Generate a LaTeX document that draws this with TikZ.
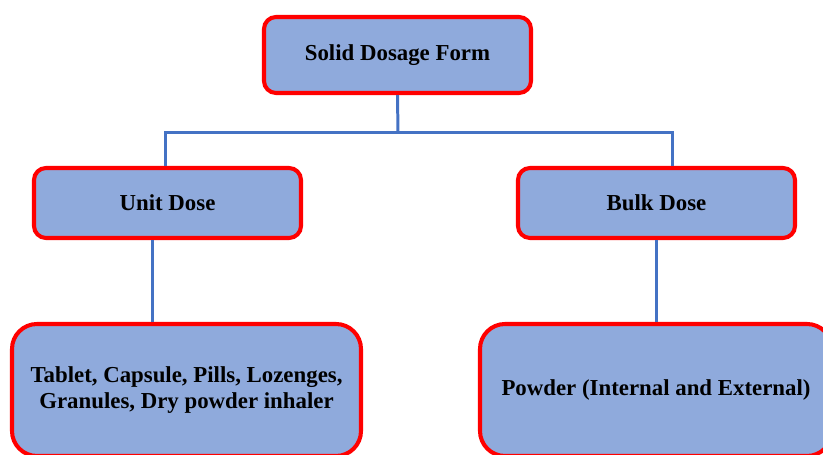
\documentclass[tikz,border=0pt]{standalone}
\usepackage{fontspec}
\setmainfont{Liberation Serif}
\usetikzlibrary{calc}
\definecolor{boxfill}{HTML}{8FAADC}
\definecolor{linkblue}{HTML}{4472C4}
\tikzset{
    dosebox/.style={draw=red, fill=boxfill, line width=2.3pt, rounded corners=0.24cm,
        align=center, font=\fontsize{13}{15}\selectfont\bfseries, inner sep=0pt},
    bigbox/.style={dosebox, rounded corners=0.5cm},
    link/.style={linkblue, line width=1.7pt}
}
\begin{document}
\begin{tikzpicture}[x=0.02cm, y=-0.02cm]
        \useasboundingbox (0,0) rectangle (823,455);

        \node[dosebox, minimum width=267*0.02cm, minimum height=76*0.02cm] (solid) at (397.5,55) {Solid Dosage Form};
        \node[dosebox, minimum width=267*0.02cm, minimum height=70*0.02cm] (unit) at (167.5,203) {Unit Dose};
        \node[dosebox, minimum width=277*0.02cm, minimum height=70*0.02cm] (bulk) at (656.5,203) {Bulk Dose};
        \node[bigbox, minimum width=349*0.02cm, minimum height=132*0.02cm] (tablets) at (186.5,390)
            {Tablet, Capsule, Pills, Lozenges,\\Granules, Dry powder inhaler};
        \node[bigbox, minimum width=352*0.02cm, minimum height=132*0.02cm] (powder) at (656,390)
            {Powder (Internal and External)};

        \coordinate (split) at (398,133);
        \coordinate (unitin) at ($(unit.north)+(-2,0)$);
        \coordinate (unitout) at ($(unit.south)+(-15,0)$);
        \coordinate (bulkin) at ($(bulk.north)+(16,0)$);

        \draw[link] (solid.south) -- (split);
        \draw[link] (unitin) |- (split) -| (bulkin);
        \draw[link] (unitout) -- (unitout |- tablets.north);
        \draw[link] (bulk.south) -- (bulk.south |- powder.north);
    \end{tikzpicture}
\end{document}
